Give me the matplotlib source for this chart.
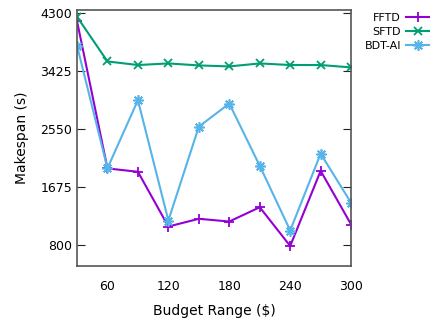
import matplotlib
matplotlib.use('Agg')
import matplotlib.pyplot as plt

plt.rc('font', family='DejaVu Sans', size=9)

budget = [30, 60, 90, 120, 150, 180, 210, 240, 270, 300]
fftd = [4176, 1958, 1907, 1084, 1200, 1159, 1374, 791, 1922, 1114]
sftd = [4240, 3567, 3513, 3537, 3507, 3492, 3537, 3513, 3513, 3477]
bdtai = [3806, 1960, 2984, 1174, 2586, 2934, 1997, 1024, 2180, 1439]

xticks = [60, 120, 180, 240, 300]
yticks = [800, 1675, 2550, 3425, 4300]

fig = plt.figure(figsize=(4.4, 3.24), dpi=100)
ax = fig.add_axes([0.175, 0.179, 0.623, 0.790])

ax.plot(budget, fftd, color='#9400d3', lw=1.5, marker='+', ms=7, mew=1.3, label='FFTD')
ax.plot(budget, sftd, color='#009e73', lw=1.5, marker='x', ms=6, mew=1.3, label='SFTD')
ax.plot(budget, bdtai, color='#56b4e9', lw=1.5, marker=(8, 2, 0), ms=7.5, mew=1.2, label='BDT-AI')

ax.set_xlim(30, 300)
ax.set_ylim(490, 4340)
ax.set_xticks(xticks)
ax.set_yticks(yticks)
ax.tick_params(axis='y', direction='in', length=6, right=True, color='#222222')
ax.tick_params(axis='x', length=0, pad=10)
for s in ax.spines.values():
    s.set_color('#555555')
    s.set_linewidth(1.2)

ax.set_xlabel('Budget Range ($)', fontsize=10, labelpad=8)
ax.set_ylabel('Makespan (s)', fontsize=10, labelpad=8)

ax.legend(loc='upper left', bbox_to_anchor=(1.02, 1.02), frameon=False,
          markerfirst=False, handlelength=2.0, handletextpad=0.5,
          labelspacing=0.38, fontsize=8, borderaxespad=0.3)

fig.savefig('out.png', dpi=100)
